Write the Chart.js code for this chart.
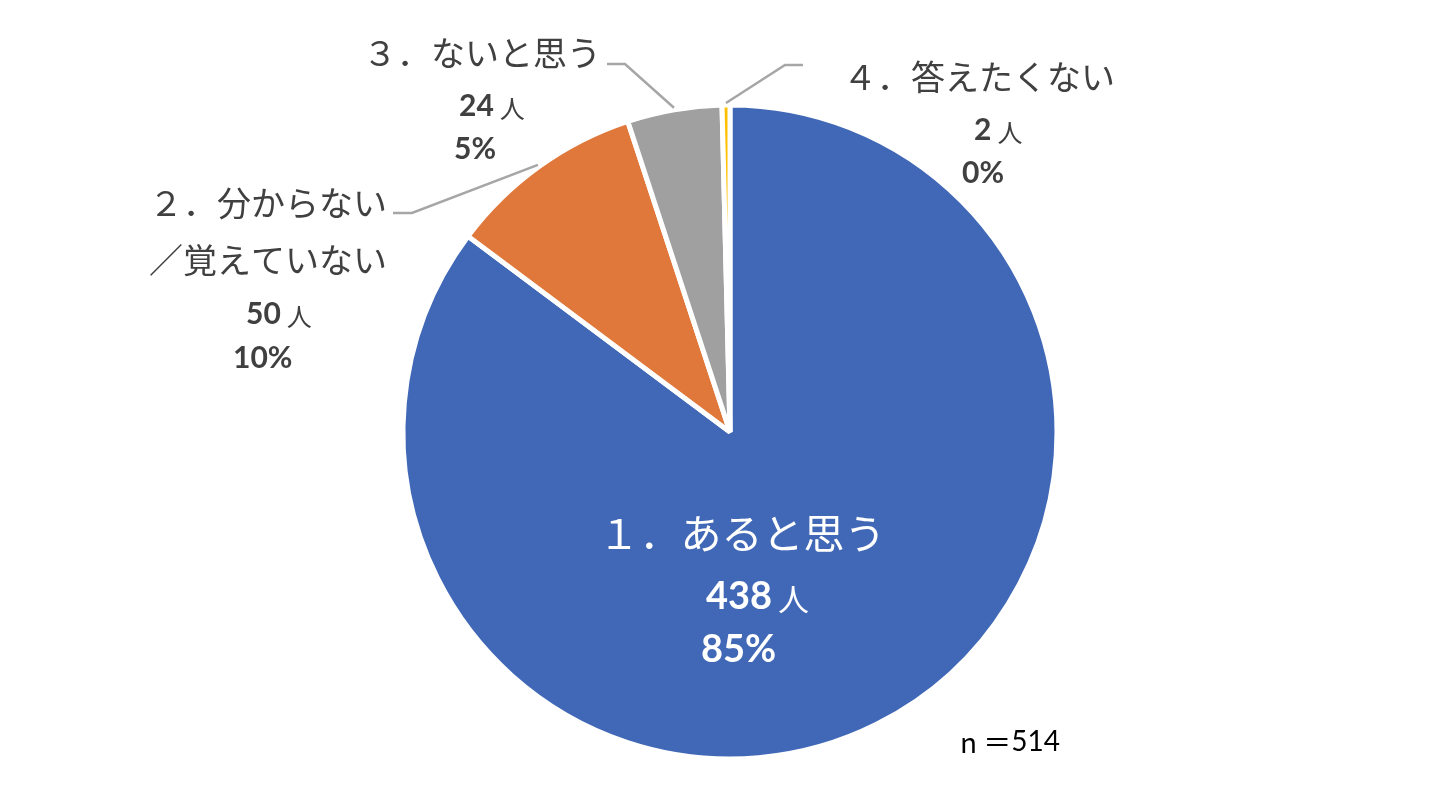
<!DOCTYPE html>
<html lang="ja">
<head>
<meta charset="utf-8">
<script src="https://cdn.jsdelivr.net/npm/chart.js@4.4.0/dist/chart.umd.min.js"></script>
<style>
  html, body { margin: 0; padding: 0; background: #fff; }
  #wrap { width: 1454px; height: 808px; }
</style>
</head>
<body>
<div id="wrap"><canvas id="AnswerChart" width="1454" height="808"></canvas></div>
<script>
// data
var categories = ['１．あると思う', '２．分からない／覚えていない', '３．ないと思う', '４．答えたくない'];
var categoryLines = [['１．あると思う'], ['２．分からない', '／覚えていない'], ['３．ないと思う'], ['４．答えたくない']];
var counts = [438, 50, 24, 2];
var countUnit = '人';
var sampleLabel = 'n ＝';

var sliceColors = ['#4068B6', '#DF783A', '#A0A0A0', '#FFC000'];
var total = counts.reduce(function (a, b) { return a + b; }, 0);

// label placement, offsets from the pie centre (px)
var labelLayout = [
  { color: '#FFFFFF', catSize: 41, numSize: 38, unitSize: 31, catAlign: 'center',
    cat: [[12, 101]], num: [-24, 165], pct: [-29, 218], leader: null },
  { color: '#404040', catSize: 34, numSize: 30, unitSize: 25, catAlign: 'right',
    cat: [[-343, -229], [-343, -172]], num: [-484, -118], pct: [-497, -74],
    leader: [[-318, -219], [-337, -219]] },
  { color: '#404040', catSize: 34, numSize: 30, unitSize: 25, catAlign: 'left',
    cat: [[-367, -379]], num: [-271, -326], pct: [-276, -283],
    leader: [[-105, -368], [-123, -368]] },
  { color: '#404040', catSize: 34, numSize: 30, unitSize: 25, catAlign: 'left',
    cat: [[113, -355]], num: [244, -302], pct: [232, -259],
    leader: [[55, -367], [73, -367]] }
];

var CJK = '"Noto Sans CJK JP", "Noto Sans", sans-serif';
var NUM = 'Lato, "Open Sans", sans-serif';

var pieLabels = {
  id: 'pieLabels',
  afterDatasetsDraw: function (chart) {
    var ctx = chart.ctx;
    var arcs = chart.getDatasetMeta(0).data;
    ctx.save();
    ctx.textBaseline = 'middle';
    arcs.forEach(function (arc, i) {
      var lay = labelLayout[i];
      var cx = arc.x, cy = arc.y;

      // leader line
      if (lay.leader) {
        var mid = (arc.startAngle + arc.endAngle) / 2;
        var r = arc.outerRadius + 2;
        ctx.beginPath();
        ctx.moveTo(cx + r * Math.cos(mid), cy + r * Math.sin(mid));
        ctx.lineTo(cx + lay.leader[0][0], cy + lay.leader[0][1]);
        ctx.lineTo(cx + lay.leader[1][0], cy + lay.leader[1][1]);
        ctx.strokeStyle = '#A6A6A6';
        ctx.lineWidth = 2.5;
        ctx.stroke();
      }

      ctx.fillStyle = lay.color;
      // category text
      ctx.font = lay.catSize + 'px ' + CJK;
      ctx.textAlign = lay.catAlign;
      categoryLines[i].forEach(function (line, k) {
        ctx.fillText(line, cx + lay.cat[k][0], cy + lay.cat[k][1]);
      });

      // count + unit
      ctx.textAlign = 'left';
      ctx.font = 'bold ' + lay.numSize + 'px ' + NUM;
      var numText = String(counts[i]);
      var nx = cx + lay.num[0], ny = cy + lay.num[1];
      ctx.fillText(numText, nx, ny);
      var w = ctx.measureText(numText).width;
      ctx.font = lay.unitSize + 'px ' + CJK;
      ctx.fillText(countUnit, nx + w + 6, ny + 2);

      // percentage
      ctx.font = 'bold ' + lay.numSize + 'px ' + NUM;
      var pct = Math.round(counts[i] / total * 100) + '%';
      ctx.fillText(pct, cx + lay.pct[0], cy + lay.pct[1]);
    });

    // sample size
    var a0 = arcs[0];
    ctx.fillStyle = '#000000';
    ctx.textAlign = 'left';
    ctx.font = '28px ' + CJK;
    ctx.fillText(sampleLabel, a0.x + 230, a0.y + 310);
    var sw = ctx.measureText(sampleLabel).width;
    ctx.font = '28px ' + NUM;
    ctx.fillText(String(total), a0.x + 230 + sw, a0.y + 310);
    ctx.restore();
  }
};

var config = {
  type: 'pie',
  data: {
    labels: categories,
    datasets: [{
      data: counts,
      backgroundColor: sliceColors,
      borderColor: '#FFFFFF',
      borderWidth: 5,
      label: '回答'
    }]
  },
  options: {
    responsive: false,
    animation: false,
    radius: 327,
    layout: { padding: { left: 380, right: 374, top: 82, bottom: 26 } },
    plugins: {
      legend: { display: false },
      tooltip: { enabled: false }
    }
  },
  plugins: [pieLabels]
};

var ctx = document.getElementById('AnswerChart').getContext('2d');
window.answerPie = new Chart(ctx, config);
</script>
</body>
</html>
